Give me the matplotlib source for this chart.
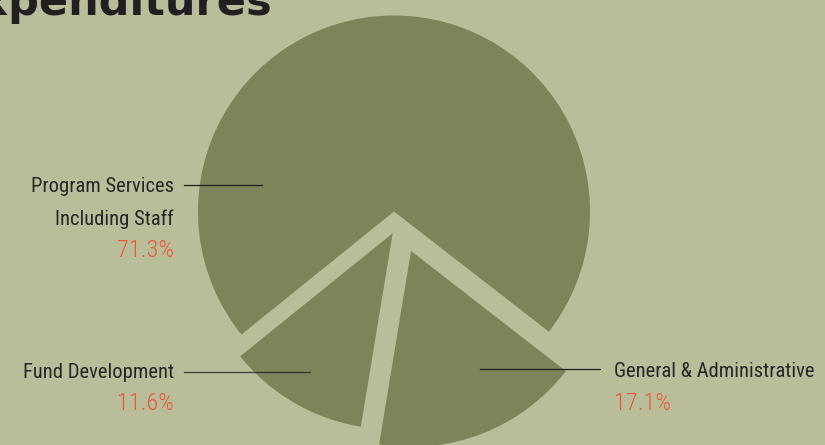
import matplotlib
matplotlib.use("Agg")
import matplotlib.pyplot as plt
from matplotlib import font_manager

# ---- data ----
title = "Expenditures"
categories = ["Program Services\nIncluding Staff", "Fund Development", "General & Administrative"]
values = [71.3, 11.6, 17.1]

# ---- style ----
BG = "#b9bd99"
SLICE = "#7f835b"
DARK = "#262626"
ORANGE = "#e8593a"

W, H = 825, 445

def Y(img_y):
    return H - img_y

available = {f.name for f in font_manager.fontManager.ttflist}
label_font = "DejaVu Sans"
for cand in ["Roboto Condensed", "Liberation Sans Narrow", "DejaVu Sans"]:
    if cand in available:
        label_font = cand
        break

fig = plt.figure(figsize=(W / 100, H / 100), dpi=100, facecolor=BG)
ax = fig.add_axes([0, 0, 1, 1])
ax.set_facecolor(BG)

center = (394, Y(211.5))
radius = 196
# per-slice displacement of the exploded pieces (pixels)
offsets = [(0, 0), (-1.3, -21.8), (17, -39.5)]

wedges, _ = ax.pie(values, startangle=-37.8, counterclock=True, radius=radius,
                   center=center, colors=[SLICE] * len(values),
                   wedgeprops=dict(linewidth=0))
for w, (dx, dy) in zip(wedges, offsets):
    w.set_center((center[0] + dx, center[1] + dy))

ax.set_xlim(0, W)
ax.set_ylim(0, H)
ax.set_aspect("auto")
ax.axis("off")

# title (partly cut off by the top/left edges as in the reference)
ax.text(272, Y(15), title, ha="right", va="baseline", fontsize=31,
        fontweight="bold", color="#231f20", family="DejaVu Sans")

lfs = 14.8
pfs = 17.5
lkw = dict(va="baseline", fontsize=lfs, family=label_font)
pkw = dict(va="baseline", fontsize=pfs, family=label_font, fontweight="light")

# Program Services
p_lines = categories[0].split("\n")
ax.text(174, Y(192), p_lines[0], ha="right", color=DARK, **lkw)
ax.text(174, Y(225), p_lines[1], ha="right", color=DARK, **lkw)
ax.text(174, Y(257), f"{values[0]:.1f}%", ha="right", color=ORANGE, **pkw)
ax.plot([184, 262], [Y(185), Y(185)], color="#1f1f1f", lw=0.9)

# Fund Development
ax.text(174, Y(378), categories[1], ha="right", color=DARK, **lkw)
ax.text(174, Y(410), f"{values[1]:.1f}%", ha="right", color=ORANGE, **pkw)
ax.plot([184, 310], [Y(371.5), Y(371.5)], color="#1f1f1f", lw=0.9, alpha=0.8)

# General & Administrative
ax.text(614, Y(377), categories[2], ha="left", color=DARK, **lkw)
ax.text(614, Y(410), f"{values[2]:.1f}%", ha="left", color=ORANGE, **pkw)
ax.plot([480, 600], [Y(369), Y(369)], color="#1f1f1f", lw=0.9)

fig.savefig("out.png", dpi=100, facecolor=BG)
